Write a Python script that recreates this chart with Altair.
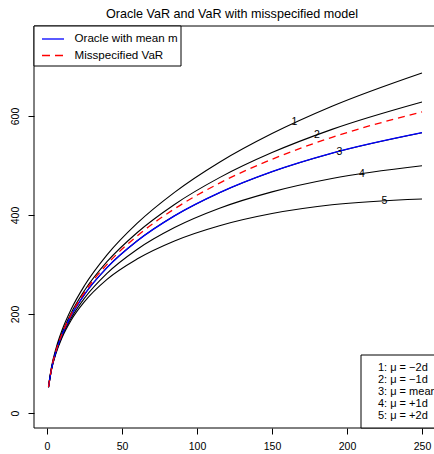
import altair as alt
import pandas as pd

# horizon (days)
t = [1, 3, 6, 10, 16, 25, 40, 60, 85, 115, 150, 190, 250]
mu_m2d = [54.5, 93.4, 130.7, 167.1, 208.9, 257.4, 319.4, 383.0, 445.7, 506.6, 564.5, 619.7, 687.0]
mu_m1d = [53.1, 90.9, 126.9, 161.8, 201.7, 247.5, 305.6, 364.2, 421.3, 475.5, 526.1, 573.0, 628.3]
mu_mean = [52.4, 89.3, 124.4, 158.0, 196.2, 239.6, 293.7, 347.4, 398.3, 445.1, 487.5, 524.9, 566.2]
mu_p1d = [51.9, 88.2, 122.3, 154.8, 191.1, 232.1, 282.1, 330.4, 374.6, 413.6, 446.7, 473.7, 499.4]
mu_p2d = [52.0, 87.5, 120.5, 152.0, 187.0, 225.0, 270.0, 311.0, 347.5, 378.3, 402.9, 420.6, 432.4]
oracle = [52.4, 89.3, 124.4, 158.0, 196.2, 239.6, 293.7, 347.4, 398.3, 445.1, 487.5, 524.9, 566.2]
misspec = [52.5, 89.8, 125.3, 159.6, 198.7, 243.7, 300.3, 357.4, 412.4, 464.4, 512.6, 556.9, 608.3]

label_text = ["1", "2", "3", "4", "5"]
label_x = [165, 180, 195, 210, 225]
label_y = [587, 562, 528, 483, 428]

legend1_labels = ["Oracle with mean mu", "Misspecified VaR"]
legend2_labels = ["1: \u03bc = \u22122d", "2: \u03bc = \u22121d", "3: \u03bc = mean",
                  "4: \u03bc = +1d", "5: \u03bc = +2d"]

x_ticks = [0, 50, 100, 150, 200, 250]
y_ticks = [0, 200, 400, 600]

FONT = "Liberation Sans"

black_rows = []
for name, vals in zip(label_text, [mu_m2d, mu_m1d, mu_mean, mu_p1d, mu_p2d]):
    for xi, vi in zip(t, vals):
        black_rows.append({"t": xi, "v": vi, "s": name})
black = pd.DataFrame(black_rows)
blue = pd.DataFrame({"t": t, "v": oracle})
red = pd.DataFrame({"t": t, "v": misspec})
labs = pd.DataFrame({"t": label_x, "v": label_y, "lab": label_text})

xs = alt.Scale(domain=[-8.67, 258], nice=False, zero=False)
ys = alt.Scale(domain=[-30.3, 781.8], nice=False, zero=False)

xax = alt.Axis(values=x_ticks, domain=False, grid=False, tickSize=6, tickColor="black",
               labelFontSize=10.5, labelFont=FONT, labelColor="black", labelPadding=7,
               title=None, labelFlush=False, labelOverlap=False)
yax = alt.Axis(values=y_ticks, domain=False, grid=False, tickSize=6, tickColor="black",
               labelFontSize=10.5, labelFont=FONT, labelColor="black", labelAngle=-90,
               labelAlign="center", labelBaseline="bottom", labelPadding=8,
               title=None, labelFlush=False, labelOverlap=False)

base_x = alt.X("t:Q", scale=xs, axis=xax)
base_y = alt.Y("v:Q", scale=ys, axis=yax)

black_lines = alt.Chart(black).mark_line(color="black", strokeWidth=1.1, interpolate="monotone").encode(
    x=base_x, y=base_y, detail="s:N")
blue_line = alt.Chart(blue).mark_line(color="#0000FF", strokeWidth=1.3, interpolate="monotone").encode(
    x="t:Q", y="v:Q")
red_line = alt.Chart(red).mark_line(color="#FF0000", strokeWidth=1.3, strokeDash=[7, 5],
                                    interpolate="monotone").encode(x="t:Q", y="v:Q")
labels = alt.Chart(labs).mark_text(fontSize=10.5, font=FONT, color="black").encode(
    x="t:Q", y="v:Q", text="lab:N")

# frame box
frame = alt.Chart(pd.DataFrame({"a": [0]})).mark_rect(fill=None, stroke="black", strokeWidth=1).encode(
    x=alt.value(0), x2=alt.value(404), y=alt.value(0), y2=alt.value(402))

# top-left legend
leg1_box = alt.Chart(pd.DataFrame({"a": [0]})).mark_rect(fill="white", stroke="black", strokeWidth=1).encode(
    x=alt.value(0), x2=alt.value(147), y=alt.value(0), y2=alt.value(40))
leg1_blue = alt.Chart(pd.DataFrame({"a": [0]})).mark_rule(color="#0000FF", strokeWidth=1.3).encode(
    x=alt.value(8), x2=alt.value(30), y=alt.value(13))
leg1_red = alt.Chart(pd.DataFrame({"a": [0]})).mark_rule(color="#FF0000", strokeWidth=1.3, strokeDash=[8, 5]).encode(
    x=alt.value(8), x2=alt.value(30), y=alt.value(29.5))
leg1_text = alt.Chart(pd.DataFrame({"lab": legend1_labels, "py": [13, 29.5]})).mark_text(
    fontSize=11.6, font=FONT, color="black", align="left", baseline="middle", limit=107, ellipsis=" ").encode(
    x=alt.value(40.5), y=alt.Y("py:Q", scale=None), text="lab:N")

# bottom-right legend
leg2_box = alt.Chart(pd.DataFrame({"a": [0]})).mark_rect(fill="white", stroke="black", strokeWidth=1).encode(
    x=alt.value(327), x2=alt.value(410), y=alt.value(329), y2=alt.value(402))
leg2_text = alt.Chart(pd.DataFrame({"lab": legend2_labels, "py": [342, 354, 366, 378, 390]})).mark_text(
    fontSize=11, font=FONT, color="black", align="left", baseline="middle").encode(
    x=alt.value(344), y=alt.Y("py:Q", scale=None), text="lab:N")

title = alt.Chart(pd.DataFrame({"lab": ["Oracle VaR and VaR with misspecified model"]})).mark_text(
    fontSize=12.6, font=FONT, color="black", align="center", baseline="middle").encode(
    x=alt.value(198), y=alt.value(-12), text="lab:N")

chart = alt.layer(
    black_lines, blue_line, red_line, labels, frame,
    leg1_box, leg1_blue, leg1_red, leg1_text,
    leg2_box, leg2_text, title
).properties(
    width=400, height=402,
    autosize=alt.AutoSizeParams(type="none"),
    padding={"left": 34, "top": 26, "right": 0, "bottom": 26},
    background="white",
).configure_view(stroke=None)

chart.save("out.html", embed_options={"renderer": "svg", "actions": False})
